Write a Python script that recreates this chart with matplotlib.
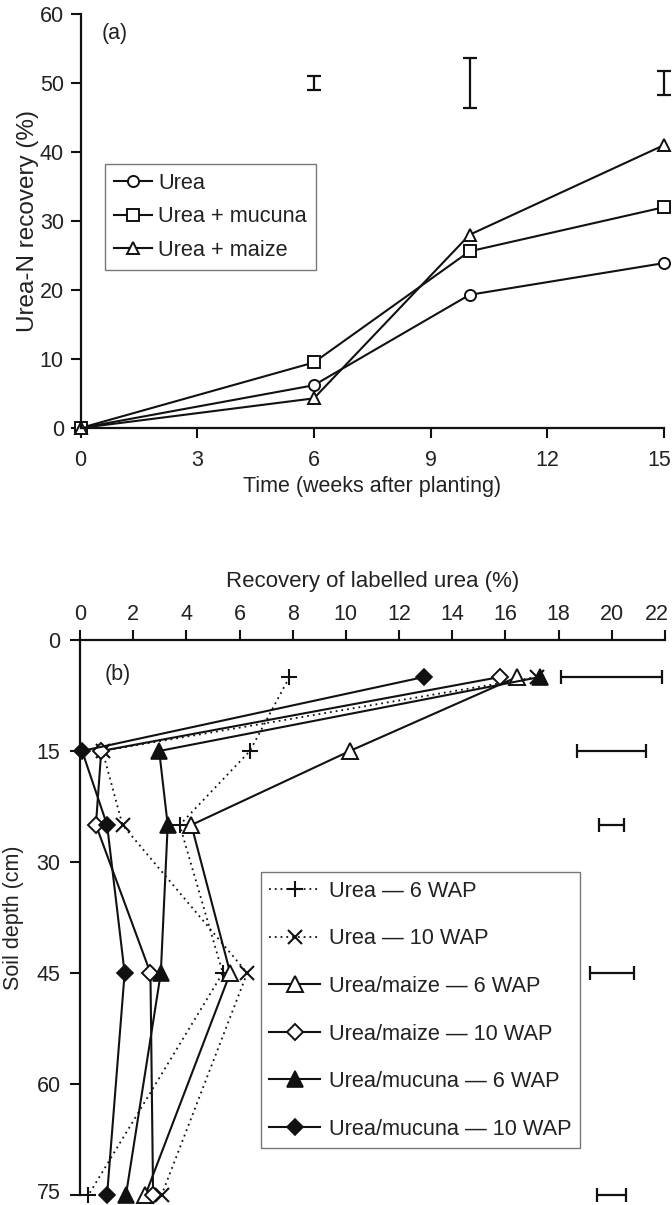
import matplotlib
matplotlib.use("Agg")
import matplotlib.pyplot as plt
from matplotlib.transforms import ScaledTranslation

plt.rcParams['font.family'] = ['Liberation Sans', 'DejaVu Sans']
plt.rcParams['font.size'] = 15.5
plt.rcParams['text.color'] = '#222222'
plt.rcParams['axes.labelcolor'] = '#222222'
plt.rcParams['xtick.color'] = '#111111'
plt.rcParams['ytick.color'] = '#111111'
plt.rcParams['xtick.labelcolor'] = '#222222'
plt.rcParams['ytick.labelcolor'] = '#222222'

# ---- Panel (a): urea-N recovery over time ----
weeks = [0, 6, 10, 15]
urea_a = [0, 6.2, 19.3, 23.9]
mucuna_a = [0, 9.5, 25.6, 32.0]
maize_a = [0, 4.3, 28.0, 41.0]
lsd_weeks = [6, 10, 15]
lsd_a_center = [50, 50, 50]
lsd_a_half = [1.0, 3.6, 1.7]
a_xticks = [0, 3, 6, 9, 12, 15]
a_yticks = [0, 10, 20, 30, 40, 50, 60]

# ---- Panel (b): recovery of labelled urea by soil depth ----
depths = [5, 15, 25, 45, 75]
urea_6wap = [7.88, 6.39, 3.75, 5.37, 0.32]
urea_10wap = [17.18, 0.85, 1.6, 6.29, 3.07]
maize_6wap = [16.44, 10.15, 4.19, 5.65, 2.46]
maize_10wap = [15.8, 0.8, 0.6, 2.65, 2.75]
mucuna_6wap = [17.3, 2.98, 3.3, 3.04, 1.73]
mucuna_10wap = [12.94, 0.08, 1.02, 1.68, 1.02]
lsd_b_depths = [5, 15, 25, 45, 75]
lsd_b_center = [20, 20, 20, 20, 20]
lsd_b_half = [1.9, 1.3, 0.47, 0.83, 0.54]
b_xticks = [0, 2, 4, 6, 8, 10, 12, 14, 16, 18, 20, 22]
b_yticks = [0, 15, 30, 45, 60, 75]

INK = '#111111'
LW = 1.5
LEGEND_SIZE = 15.7

fig = plt.figure(figsize=(6.72, 12.05), dpi=100)
ax1 = fig.add_axes([0.1198, 0.6448, 0.8683, 0.3436])
ax2 = fig.add_axes([0.119, 0.0083, 0.8705, 0.4606])


def style_axis(ax):
    for side in ('left', 'right', 'top', 'bottom'):
        ax.spines[side].set_linewidth(1.6)
        ax.spines[side].set_color(INK)
    ax.tick_params(direction='out', length=7, width=1.5)


def nudge(label, dx_px, dy_px):
    """Shift a tick label by a few pixels so it stays inside the figure."""
    label.set_transform(label.get_transform() +
                        ScaledTranslation(dx_px / 100, dy_px / 100,
                                          fig.dpi_scale_trans))


# ---------- (a) ----------
style_axis(ax1)
ax1.spines['top'].set_visible(False)
ax1.spines['right'].set_visible(False)
ax1.set_xlim(0, 15)
ax1.set_ylim(0, 60)
ax1.set_xticks(a_xticks)
ax1.set_yticks(a_yticks)
ax1.tick_params(axis='x', pad=8.5)
ax1.tick_params(axis='y', pad=5)

common = dict(color=INK, lw=LW, mec=INK, mfc='white', mew=1.4, clip_on=False)
ax1.plot(weeks, urea_a, marker='o', ms=8, label='Urea', **common)
ax1.plot(weeks, mucuna_a, marker='s', ms=8, label='Urea + mucuna', **common)
ax1.plot(weeks, maize_a, marker='^', ms=8.5, label='Urea + maize', **common)

eb = ax1.errorbar(lsd_weeks, lsd_a_center, yerr=lsd_a_half, fmt='none',
                  ecolor=INK, elinewidth=1.6, capsize=5, capthick=1.6)
for artist in eb.lines[1] + eb.lines[2]:
    artist.set_clip_on(False)

ax1.set_xlabel('Time (weeks after planting)')
ax1.set_ylabel('Urea-N recovery (%)', fontsize=17.5)
ax1.yaxis.set_label_coords(-0.071, 0.5)
ax1.xaxis.set_label_coords(0.5, -0.117)
ax1.text(0.55, 57.2, '(a)', va='center', ha='left')

leg1 = ax1.legend(loc='upper left', bbox_to_anchor=(0.042, 0.638),
                  borderaxespad=0, frameon=True, fancybox=False,
                  fontsize=LEGEND_SIZE,
                  handlelength=1.75, handletextpad=0.3, labelspacing=0.58,
                  borderpad=0.4)
leg1.get_frame().set_edgecolor('#555555')
leg1.get_frame().set_linewidth(1.0)

nudge(ax1.get_xticklabels()[-1], -5, 0)

# ---------- (b) ----------
style_axis(ax2)
ax2.spines['bottom'].set_visible(False)
ax2.spines['right'].set_visible(False)
ax2.xaxis.tick_top()
ax2.xaxis.set_label_position('top')
ax2.set_xlim(0, 22)
ax2.set_ylim(75, 0)
ax2.set_xticks(b_xticks)
ax2.set_yticks(b_yticks)
ax2.tick_params(axis='x', pad=4)
ax2.tick_params(axis='y', pad=7)

dotted = (0, (1, 2.2))
ax2.plot(urea_6wap, depths, ls=dotted, marker='+', ms=12, mew=1.5,
         color=INK, lw=1.3, clip_on=False, label='Urea \u2014 6 WAP')
ax2.plot(urea_10wap, depths, ls=dotted, marker='x', ms=10, mew=1.5,
         color=INK, lw=1.3, clip_on=False, label='Urea \u2014 10 WAP')
ax2.plot(maize_6wap, depths, ls='-', marker='^', ms=11, mew=1.4,
         color=INK, mec=INK, mfc='white', lw=LW, clip_on=False,
         label='Urea/maize \u2014 6 WAP')
ax2.plot(maize_10wap, depths, ls='-', marker='D', ms=8, mew=1.4,
         color=INK, mec=INK, mfc='white', lw=LW, clip_on=False,
         label='Urea/maize \u2014 10 WAP')
ax2.plot(mucuna_6wap, depths, ls='-', marker='^', ms=11, mew=1.2,
         color=INK, mec=INK, mfc=INK, lw=LW, clip_on=False,
         label='Urea/mucuna \u2014 6 WAP')
ax2.plot(mucuna_10wap, depths, ls='-', marker='D', ms=8.5, mew=1.2,
         color=INK, mec=INK, mfc=INK, lw=LW, clip_on=False,
         label='Urea/mucuna \u2014 10 WAP')

eb2 = ax2.errorbar(lsd_b_center, lsd_b_depths, xerr=lsd_b_half, fmt='none',
                   ecolor=INK, elinewidth=1.6, capsize=5, capthick=1.6)
for artist in eb2.lines[1] + eb2.lines[2]:
    artist.set_clip_on(False)

ax2.set_xlabel('Recovery of labelled urea (%)', fontsize=16)
ax2.set_ylabel('Soil depth (cm)')
ax2.yaxis.set_label_coords(-0.096, 0.5)
ax2.xaxis.set_label_coords(0.5, 1.095)
ax2.text(0.92, 4.7, '(b)', va='center', ha='left')

leg2 = ax2.legend(loc='upper left', bbox_to_anchor=(0.309, 0.582),
                  borderaxespad=0, frameon=True, fancybox=False,
                  fontsize=LEGEND_SIZE,
                  handlelength=2.34, handletextpad=0.37, labelspacing=1.22,
                  borderpad=0.4)
leg2.get_frame().set_edgecolor('#555555')
leg2.get_frame().set_linewidth(1.0)

nudge(ax2.get_xticklabels()[-1], -8, 0)
nudge(ax2.get_yticklabels()[-1], 0, 4)

fig.savefig('out.png', dpi=100)
